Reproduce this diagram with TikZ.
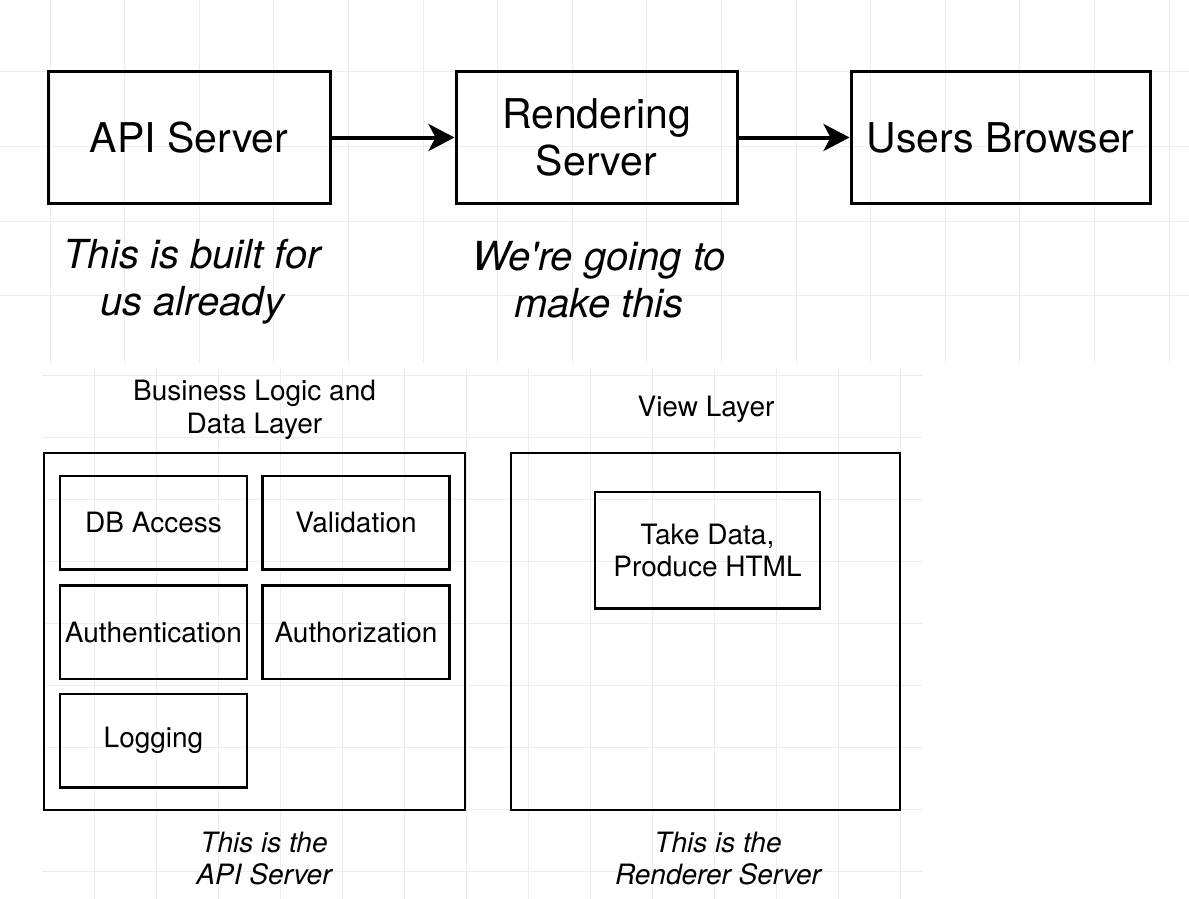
\documentclass[tikz,border=0pt]{standalone}
\usepackage{fontspec}
\setmainfont{TeX Gyre Heros}
\usepackage{tikz}
\usetikzlibrary{arrows.meta}
\tikzstyle{gridline}=[draw=black!7, line width=1pt]
\tikzstyle{srvbox}=[draw, line width=3pt, inner sep=0pt, minimum height=131pt, align=center, font=\fontsize{41}{47}\selectfont]
\tikzstyle{note}=[align=center, font=\fontsize{40}{47}\selectfont\itshape]
\tikzstyle{layer}=[draw, line width=2.5pt, inner sep=0pt, minimum height=357pt]
\tikzstyle{part}=[draw, line width=2.5pt, inner sep=0pt, minimum width=187pt, minimum height=93.5pt, align=center, font=\fontsize{28}{32}\selectfont]
\tikzstyle{title}=[align=center, font=\fontsize{28}{33}\selectfont]
\tikzstyle{caption}=[align=center, font=\fontsize{28}{32}\selectfont\itshape]
\tikzstyle{flow}=[line width=4pt, -{Stealth[length=26pt, width=27pt, inset=7pt]}]

\begin{document}
\begin{tikzpicture}[x=1pt, y=-1pt]
    \useasboundingbox (0, 0) rectangle (1189, 899);
    % background grids
    \foreach \i in {0,...,15}
        \draw[gridline] (50+74.6*\i, 0) -- (50+74.6*\i, 363);
    \foreach \j in {0,...,3}
        \draw[gridline] (0, 72+74.6*\j) -- (1189, 72+74.6*\j);
    \foreach \i in {0,...,13}
        \draw[gridline] (94.5+62*\i, 368) -- (94.5+62*\i, 899);
    \foreach \j in {0,...,8}
        \draw[gridline] (42, 375+62*\j) -- (922, 375+62*\j);

    % top row
    \node[srvbox, minimum width=282pt] (api) at (189, 137.5) {API Server};
    \node[srvbox, minimum width=281pt] (rendering) at (596.5, 137.5) {Rendering\\Server};
    \node[srvbox, minimum width=299pt] (browser) at (1000.5, 137.5) {Users Browser};
    \draw[flow] (api) -- (rendering);
    \draw[flow] (rendering) -- (browser);
    \node[note] (built) at (192, 282) {This is built for\\us already};
    \node[note] (make) at (599, 280) {We\textquotesingle re going to\\make this};

    % bottom: API server layer
    \node[title] (bizlabel) at (254.5, 410) {Business Logic and\\Data Layer};
    \node[layer, minimum width=421pt] (apilayer) at (254.5, 631.5) {};
    \node[part] (db) at (153.5, 522.5) {DB Access};
    \node[part] (valid) at (356, 522.5) {Validation};
    \node[part] (authn) at (153.5, 632) {Authentication};
    \node[part] (authz) at (356, 632) {Authorization};
    \node[part] (logging) at (153.5, 740.5) {\raisebox{-3pt}{Logging}};
    \node[caption] (apicap) at (264, 859) {This is the\\API Server};

    % bottom: renderer layer
    \node[title] (viewlabel) at (706, 409.5) {View Layer};
    \node[layer, minimum width=389pt] (viewlayer) at (705.5, 631.5) {};
    \node[part, minimum width=225pt, minimum height=116.5pt] (html) at (707.5, 550) {Take Data,\\Produce HTML};
    \node[caption] (rendcap) at (718, 859) {This is the\\Renderer Server};
\end{tikzpicture}
\end{document}
